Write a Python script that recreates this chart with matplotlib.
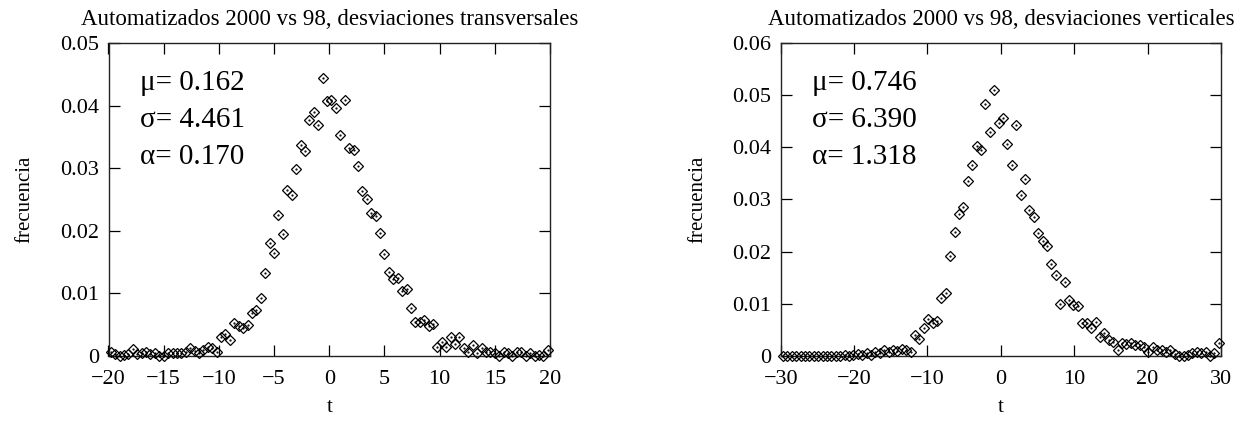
import matplotlib
matplotlib.use("Agg")
import matplotlib.pyplot as plt

plt.rcParams["font.family"] = ["Liberation Serif", "DejaVu Serif"]

# transverse deviations, bins of 0.4
t_trans = [
    -19.8, -19.4, -19.0, -18.6, -18.2, -17.8, -17.4, -17.0, -16.6, -16.2,
    -15.8, -15.4, -15.0, -14.6, -14.2, -13.8, -13.4, -13.0, -12.6, -12.2,
    -11.8, -11.4, -11.0, -10.6, -10.2, -9.8, -9.4, -9.0, -8.6, -8.2,
    -7.8, -7.4, -7.0, -6.6, -6.2, -5.8, -5.4, -5.0, -4.6, -4.2,
    -3.8, -3.4, -3.0, -2.6, -2.2, -1.8, -1.4, -1.0, -0.6, -0.2,
    0.2, 0.6, 1.0, 1.4, 1.8, 2.2, 2.6, 3.0, 3.4, 3.8,
    4.2, 4.6, 5.0, 5.4, 5.8, 6.2, 6.6, 7.0, 7.4, 7.8,
    8.2, 8.6, 9.0, 9.4, 9.8, 10.2, 10.6, 11.0, 11.4, 11.8,
    12.2, 12.6, 13.0, 13.4, 13.8, 14.2, 14.6, 15.0, 15.4, 15.8,
    16.2, 16.6, 17.0, 17.4, 17.8, 18.2, 18.6, 19.0, 19.4, 19.8,
]
f_trans = [
    0.0006, 0.0002, 0.0000, 0.0001, 0.0002, 0.0010, 0.0002, 0.0004, 0.0006, 0.0002,
    0.0004, 0.0000, 0.0000, 0.0004, 0.0004, 0.0004, 0.0004, 0.0006, 0.0012, 0.0008,
    0.0004, 0.0009, 0.0014, 0.0012, 0.0006, 0.0030, 0.0035, 0.0025, 0.0052, 0.0048,
    0.0044, 0.0049, 0.0068, 0.0073, 0.0093, 0.0133, 0.0181, 0.0164, 0.0225, 0.0195,
    0.0265, 0.0258, 0.0299, 0.0337, 0.0328, 0.0378, 0.0390, 0.0369, 0.0444, 0.0407,
    0.0409, 0.0396, 0.0354, 0.0409, 0.0333, 0.0330, 0.0304, 0.0264, 0.0251, 0.0229,
    0.0224, 0.0197, 0.0162, 0.0134, 0.0123, 0.0125, 0.0104, 0.0106, 0.0077, 0.0054,
    0.0054, 0.0057, 0.0048, 0.0051, 0.0014, 0.0022, 0.0014, 0.0030, 0.0018, 0.0030,
    0.0012, 0.0006, 0.0017, 0.0004, 0.0012, 0.0006, 0.0006, 0.0004, 0.0000, 0.0006,
    0.0004, 0.0000, 0.0006, 0.0006, 0.0000, 0.0004, 0.0000, 0.0001, 0.0000, 0.0009,
]

# vertical deviations, bins of 0.6
t_vert = [
    -29.7, -29.1, -28.5, -27.9, -27.3, -26.7, -26.1, -25.5, -24.9, -24.3,
    -23.7, -23.1, -22.5, -21.9, -21.3, -20.7, -20.1, -19.5, -18.9, -18.3,
    -17.7, -17.1, -16.5, -15.9, -15.3, -14.7, -14.1, -13.5, -12.9, -12.3,
    -11.7, -11.1, -10.5, -9.9, -9.3, -8.7, -8.1, -7.5, -6.9, -6.3,
    -5.7, -5.1, -4.5, -3.9, -3.3, -2.7, -2.1, -1.5, -0.9, -0.3,
    0.3, 0.9, 1.5, 2.1, 2.7, 3.3, 3.9, 4.5, 5.1, 5.7,
    6.3, 6.9, 7.5, 8.1, 8.7, 9.3, 9.9, 10.5, 11.1, 11.7,
    12.3, 12.9, 13.5, 14.1, 14.7, 15.3, 15.9, 16.5, 17.1, 17.7,
    18.3, 18.9, 19.5, 20.1, 20.7, 21.3, 21.9, 22.5, 23.1, 23.7,
    24.3, 24.9, 25.5, 26.1, 26.7, 27.3, 27.9, 28.5, 29.1, 29.7,
]
f_vert = [
    0.0000, 0.0000, 0.0000, 0.0000, 0.0000, 0.0000, 0.0000, 0.0000, 0.0000, 0.0000,
    0.0000, 0.0000, 0.0000, 0.0000, 0.0001, 0.0000, 0.0002, 0.0004, 0.0001, 0.0005,
    0.0002, 0.0008, 0.0005, 0.0010, 0.0007, 0.0011, 0.0009, 0.0013, 0.0010, 0.0008,
    0.0040, 0.0033, 0.0054, 0.0070, 0.0062, 0.0067, 0.0110, 0.0120, 0.0191, 0.0238,
    0.0272, 0.0286, 0.0336, 0.0367, 0.0403, 0.0395, 0.0483, 0.0430, 0.0510, 0.0446,
    0.0456, 0.0406, 0.0367, 0.0443, 0.0309, 0.0339, 0.0280, 0.0266, 0.0235, 0.0220,
    0.0211, 0.0177, 0.0155, 0.0099, 0.0142, 0.0107, 0.0097, 0.0096, 0.0063, 0.0062,
    0.0053, 0.0065, 0.0035, 0.0044, 0.0030, 0.0027, 0.0011, 0.0024, 0.0022, 0.0024,
    0.0021, 0.0021, 0.0017, 0.0008, 0.0016, 0.0011, 0.0011, 0.0008, 0.0011, 0.0004,
    0.0000, 0.0000, 0.0002, 0.0005, 0.0008, 0.0005, 0.0008, 0.0000, 0.0005, 0.0024,
]

xticks_trans = [-20, -15, -10, -5, 0, 5, 10, 15, 20]
xlabels_trans = ["\u221220", "\u221215", "\u221210", "\u22125", "0", "5", "10", "15", "20"]
yticks_trans = [0, 0.01, 0.02, 0.03, 0.04, 0.05]
ylabels_trans = ["0", "0.01", "0.02", "0.03", "0.04", "0.05"]

xticks_vert = [-30, -20, -10, 0, 10, 20, 30]
xlabels_vert = ["\u221230", "\u221220", "\u221210", "0", "10", "20", "30"]
yticks_vert = [0, 0.01, 0.02, 0.03, 0.04, 0.05, 0.06]
ylabels_vert = ["0", "0.01", "0.02", "0.03", "0.04", "0.05", "0.06"]

stats_trans = ["\u03bc= 0.162", "\u03c3= 4.461", "\u03b1= 0.170"]
stats_vert = ["\u03bc= 0.746", "\u03c3= 6.390", "\u03b1= 1.318"]

W, H = 1251, 421
fig = plt.figure(figsize=(W / 100, H / 100), dpi=100)
bottom = 1 - 355.7 / H
height = 312.4 / H
ax1 = fig.add_axes([108.5 / W, bottom, 441.5 / W, height])
ax2 = fig.add_axes([780.7 / W, bottom, 440.3 / W, height])


def draw(ax, t, f, xlim, ylim, xt, xl, yt, yl, stats, title):
    ax.plot(t, f, linestyle="none", marker="D", markersize=5.2,
            markerfacecolor="none", markeredgecolor="black",
            markeredgewidth=0.9, clip_on=False, zorder=3)
    ax.plot(t, f, linestyle="none", marker=".", markersize=1.2,
            color="black", clip_on=False, zorder=3)
    ax.set_xlim(*xlim)
    ax.set_ylim(*ylim)
    ax.set_xticks(xt)
    ax.set_xticklabels(xl)
    ax.set_yticks(yt)
    ax.set_yticklabels(yl)
    ax.tick_params(direction="in", top=True, right=True, length=8,
                   width=0.9, labelsize=16)
    ax.tick_params(axis="x", pad=10)
    ax.tick_params(axis="y", pad=7)
    for s in ax.spines.values():
        s.set_linewidth(1.0)
        s.set_color("#222222")
    ax.set_xlabel("t", fontsize=15, labelpad=7)
    ax.set_ylabel("frecuencia", fontsize=15, labelpad=18)
    ax.set_title(title, fontsize=16.5, pad=13)
    for i, s in enumerate(stats):
        ax.text(0.071, 0.873 - i * 0.119, s, transform=ax.transAxes,
                fontsize=21, va="center", ha="left")


draw(ax1, t_trans, f_trans, (-20, 20), (0, 0.05),
     xticks_trans, xlabels_trans, yticks_trans, ylabels_trans, stats_trans,
     "Automatizados 2000 vs 98, desviaciones transversales")
draw(ax2, t_vert, f_vert, (-30, 30), (0, 0.06),
     xticks_vert, xlabels_vert, yticks_vert, ylabels_vert, stats_vert,
     "Automatizados 2000 vs 98, desviaciones verticales")

fig.savefig("out.png", dpi=100)
